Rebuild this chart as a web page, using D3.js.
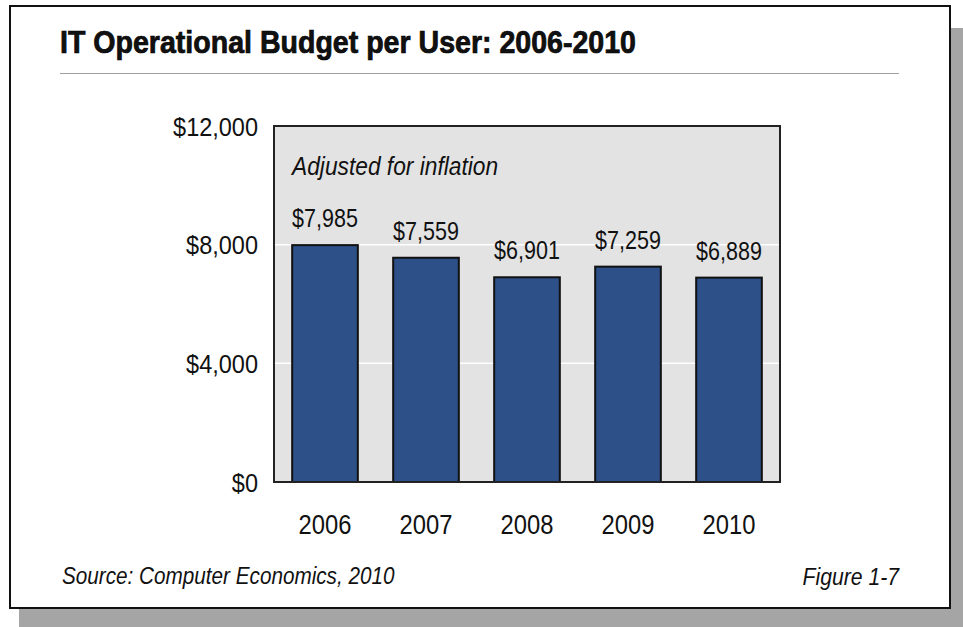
<!DOCTYPE html>
<html>
<head>
<meta charset="utf-8">
<script src="https://cdn.jsdelivr.net/npm/d3@7"></script>
<style>
  html, body { margin: 0; padding: 0; background: #ffffff; }
  svg { display: block; }
  text { font-family: "Liberation Sans", Arial, Helvetica, sans-serif; fill: #111; }
</style>
</head>
<body>
<script>
// IT operational budget per user, inflation-adjusted
const years = ["2006", "2007", "2008", "2009", "2010"];
const budget = [7985, 7559, 6901, 7259, 6889];
const yTicks = [0, 4000, 8000, 12000];
const title = "IT Operational Budget per User: 2006-2010";
const note = "Adjusted for inflation";
const source = "Source: Computer Economics, 2010";
const figure = "Figure 1-7";

const W = 963, H = 627;
const svg = d3.select("body").append("svg").attr("width", W).attr("height", H);

// squeeze glyphs horizontally to get a condensed face
function condense(sel, factor) {
  sel.each(function () {
    const len = this.getComputedTextLength();
    d3.select(this).attr("textLength", len * factor).attr("lengthAdjust", "spacingAndGlyphs");
  });
}

// drop shadow and framed card
svg.append("rect").attr("x", 19).attr("y", 28).attr("width", W - 19).attr("height", H - 28).attr("fill", "#a5a5a5");
svg.append("rect").attr("x", 10).attr("y", 6).attr("width", 940).attr("height", 602)
  .attr("fill", "#ffffff").attr("stroke", "#111").attr("stroke-width", 2);

// heading: heavy condensed
svg.append("text").attr("x", 60).attr("y", 53)
  .attr("font-size", 31).attr("font-weight", "bold")
  .attr("fill", "#000").attr("stroke", "#000").attr("stroke-width", 0.7)
  .attr("textLength", 576).attr("lengthAdjust", "spacingAndGlyphs")
  .text(title);
svg.append("line").attr("x1", 60).attr("x2", 899).attr("y1", 73.5).attr("y2", 73.5)
  .attr("stroke", "#a0a0a0").attr("stroke-width", 1.2);

// plot area
const plot = { left: 274, right: 780, top: 126, bottom: 482 };
const x = d3.scaleBand().domain(years).range([plot.left, plot.right])
  .paddingInner(0.35).paddingOuter(0.18);
const y = d3.scaleLinear().domain([0, 12000]).range([plot.bottom, plot.top]);

svg.append("rect").attr("x", plot.left).attr("y", plot.top)
  .attr("width", plot.right - plot.left).attr("height", plot.bottom - plot.top)
  .attr("fill", "#e3e3e3");

// white gridlines
svg.append("g").selectAll("line").data(yTicks.filter(d => d > 0 && d < 12000)).join("line")
  .attr("x1", plot.left).attr("x2", plot.right)
  .attr("y1", d => y(d)).attr("y2", d => y(d))
  .attr("stroke", "#ffffff").attr("stroke-width", 1.5);

// y axis labels
const yAxis = d3.axisLeft(y).tickValues(yTicks).tickSize(0).tickPadding(16)
  .tickFormat(d => "$" + d3.format(",")(d));
const gy = svg.append("g").attr("transform", `translate(${plot.left},0)`).call(yAxis);
gy.select(".domain").remove();
gy.selectAll("text").attr("font-size", 25).attr("fill", "#111")
  .attr("font-family", "\"Liberation Sans\", Arial, sans-serif")
  .attr("dy", "0.36em");
condense(gy.selectAll("text"), 0.94);

// bars
svg.append("g").selectAll("rect").data(years).join("rect")
  .attr("x", d => x(d)).attr("width", x.bandwidth())
  .attr("y", (d, i) => y(budget[i]))
  .attr("height", (d, i) => y(0) - y(budget[i]))
  .attr("fill", "#2c5087").attr("stroke", "#111").attr("stroke-width", 2);

// value labels
const vals = svg.append("g").selectAll("text").data(years).join("text")
  .attr("x", d => x(d) + x.bandwidth() / 2)
  .attr("y", (d, i) => y(budget[i]) - 18)
  .attr("text-anchor", "middle").attr("font-size", 25)
  .text((d, i) => "$" + d3.format(",")(budget[i]));
condense(vals, 0.86);

// plot frame
svg.append("rect").attr("x", plot.left).attr("y", plot.top)
  .attr("width", plot.right - plot.left).attr("height", plot.bottom - plot.top)
  .attr("fill", "none").attr("stroke", "#222").attr("stroke-width", 2);

// note inside plot
const noteText = svg.append("text").attr("x", 292).attr("y", 175)
  .attr("font-size", 25).attr("font-style", "italic").text(note);
condense(noteText, 0.91);

// x axis labels
const xAxis = d3.axisBottom(x).tickSize(0).tickPadding(0);
const gx = svg.append("g").attr("transform", `translate(0,${plot.bottom})`).call(xAxis);
gx.select(".domain").remove();
gx.selectAll("text").attr("font-size", 27).attr("fill", "#111")
  .attr("font-family", "\"Liberation Sans\", Arial, sans-serif")
  .attr("dy", null).attr("y", 52);
condense(gx.selectAll("text"), 0.88);

// footer
const src = svg.append("text").attr("x", 62).attr("y", 584)
  .attr("font-size", 23).attr("font-style", "italic").text(source);
condense(src, 0.9);
const fig = svg.append("text").attr("x", 899).attr("y", 585).attr("text-anchor", "end")
  .attr("font-size", 23).attr("font-style", "italic").text(figure);
condense(fig, 0.92);
</script>
</body>
</html>
